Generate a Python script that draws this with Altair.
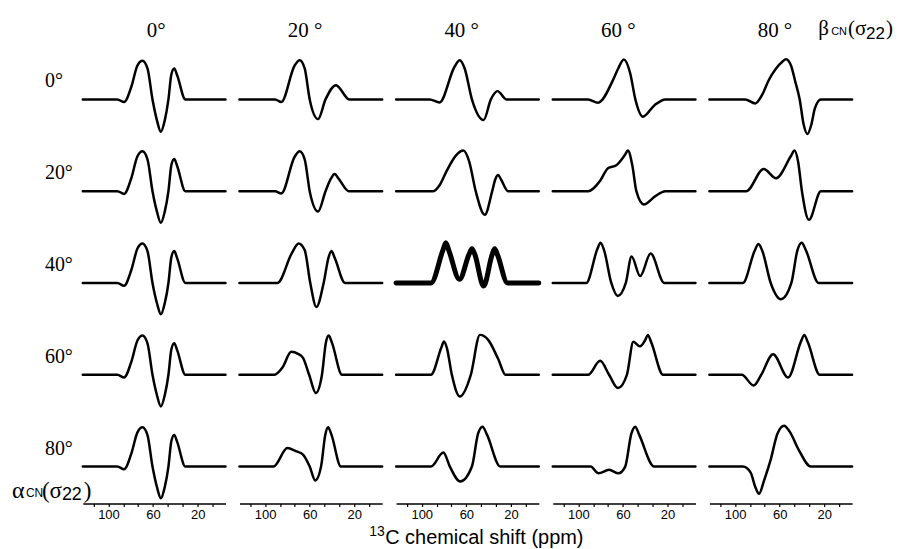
import altair as alt
import pandas as pd

# ---------------- data ----------------
alpha_angles = [0, 20, 40, 60, 80]          # rows  (alpha_CN)
beta_angles = [0, 20, 40, 60, 80]           # columns (beta_CN)
row_labels = ["0°", "20°", "40°", "60°", "80°"]
col_labels = ["0°", "20 °", "40 °", "60 °", "80 °"]
tick_ppm = [113.33, 100, 86.67, 73.33, 60, 46.67, 33.33, 20, 6.67]
labelled_ppm = [100, 60, 20]

# spectra: (chemical shift ppm, intensity) points read along each simulated line shape
s_0_0 = [(123, 0), (92, 0), (86, -2.7), (79.5, 12.7), (74, 34), (69.5, 38.7), (65, 31), (60.5, 0), (56.5, -21), (53, -32.3), (49.5, -21), (46.2, 0), (43.6, 25), (41, 31), (38.3, 24), (31, 0), (-5, 0)]
s_0_20 = [(123, 0), (91, 0), (85.5, -2.7), (73.5, 34), (69, 39.3), (64.5, 31), (60, 0), (52.5, -19.7), (45.8, 0), (36.4, 14.3), (24.5, 0), (-5, 0)]
s_0_40 = [(123, 0), (93, 0), (84, -3), (70.5, 33), (66, 39.3), (61.5, 31), (55, 0), (44.5, -20.7), (38, 0), (32, 8.3), (24, 0), (-5, 0)]
s_0_60 = [(123, 0), (91.3, 0), (82.4, -3.3), (69, 19.3), (64.3, 31), (59.2, 40), (53.5, 26), (48.9, 0), (42.2, -17.3), (31.9, -6), (22.1, 0), (-5, 0)]
s_0_80 = [(123, 0), (90.9, 0), (81.9, -4), (75.5, 5), (69.9, 19), (63.2, 31), (57.6, 37.7), (54.3, 40.3), (49.8, 34), (46, 18), (42, 0), (38.5, -25), (35.1, -34.7), (31.5, -25), (28.4, -9), (23, 0), (-5, 0)]

s_20_0 = [(123, 0), (92, 0), (86, -2.7), (79.5, 13), (74, 35), (69.5, 40), (65, 32), (60.5, 0), (56.5, -20.5), (53, -31.7), (49.5, -20.5), (46.2, 0), (43.6, 26), (41, 32.3), (38.3, 25), (31, 0), (-5, 0)]
s_20_20 = [(123, 0), (91, 0), (85.5, -2.3), (73.5, 34.5), (69, 40), (64.5, 32), (60, 0), (52.5, -20.3), (45.8, 0), (41, 12.5), (37.7, 17.3), (34, 12.5), (25, 0), (-5, 0)]
s_20_40 = [(123, 0), (89.5, 0), (84, 6), (77.5, 20.7), (69.4, 35.7), (62.7, 40.7), (57.5, 30), (51.6, 0), (43.5, -23.7), (36.8, 0), (34, 12), (31.5, 16.3), (29, 12), (22.6, 0), (-5, 0)]
s_20_60 = [(123, 0), (91.3, 0), (80.5, 10.5), (73.5, 23), (66, 26), (58.5, 36), (55.6, 40.7), (51.5, 25), (48, 0), (41.3, -13.3), (31, -5), (22.1, 0), (-5, 0)]
s_20_80 = [(123, 0), (90, 0), (74.3, 22.3), (63.2, 13), (50, 35), (46.7, 40.7), (43.5, 30), (40, 0), (33.7, -28.7), (23, 0), (-5, 0)]

s_40_0 = [(123, 0), (92, 0), (86, -2.7), (79.5, 13), (74, 34.5), (69.5, 39.7), (65, 32), (60.5, 0), (56.5, -20.3), (53, -31.3), (49.5, -20.3), (46.2, 0), (43.6, 25.7), (41, 32), (38.3, 24.7), (31, 0), (-5, 0)]
s_40_20 = [(123, 0), (89, 0), (76, 30), (70, 39.7), (64.5, 33), (59.5, 0), (54, -24), (47.5, 0), (43, 26), (40.5, 32), (37.5, 25), (28.3, 0), (-5, 0)]
s_40_40 = [(123, 0), (91.8, 0), (81, 33), (78.4, 40.3), (75.5, 32), (66.2, 3.7), (57.5, 29), (55, 34.3), (52.5, 29), (44.5, -3), (37, 28), (34.6, 34.3), (32, 28), (23, 0), (-5, 0)]
s_40_60 = [(123, 0), (93, 0), (83, 34), (80.2, 40.3), (77, 33), (70.5, 0), (64.7, -13), (57.5, 0), (52.3, 26.5), (44.6, 7), (35.2, 29.5), (23, 0), (-5, 0)]
s_40_80 = [(123, 0), (93, 0), (82.5, 32), (79, 39), (75.5, 32), (68, 0), (58.8, -16.3), (49.5, 0), (44, 33), (40.2, 40.3), (36.5, 33), (25, 0), (-5, 0)]

s_60_0 = [(123, 0), (92, 0), (86, -2.7), (79.5, 13), (74, 34.3), (69.5, 39.3), (65, 31.5), (60.5, 0), (56.5, -20.5), (53, -31.7), (49.5, -20.5), (46.2, 0), (43.6, 25.3), (41, 31.7), (38.3, 24.5), (31, 0), (-5, 0)]
s_60_20 = [(123, 0), (91.5, 0), (84.6, 7), (76.5, 23), (70.5, 21), (66, 17), (60.5, 0), (54.5, -18.3), (49, 0), (45.5, 32), (43, 39.3), (40, 32), (31, 0), (-5, 0)]
s_60_40 = [(123, 0), (91.8, 0), (82.5, 27), (80.1, 33.3), (77.5, 27), (73, 0), (65.9, -21.7), (56, 0), (47.8, 40), (40.4, 35), (31.5, 16), (24.8, 0), (-5, 0)]
s_60_60 = [(123, 0), (91.3, 0), (80.5, 14), (72.5, 0), (64.6, -13.3), (56.5, 0), (50.7, 33), (44.8, 28.5), (40, 35), (37.7, 40), (34.5, 32), (24, 0), (-5, 0)]
s_60_80 = [(123, 0), (94, 0), (83.3, -10.7), (76.5, 0), (65.9, 20.5), (52.4, -2.7), (41, 33), (37.9, 40), (34.5, 32), (24, 0), (-5, 0)]

s_80_0 = [(123, 0), (92, 0), (86, -2.7), (79.5, 13), (74, 34.3), (69.5, 39.3), (65, 31.5), (60.5, 0), (56.5, -20.5), (53, -31.7), (49.5, -20.5), (46.2, 0), (43.6, 25.3), (41, 31.7), (38.3, 24.5), (31, 0), (-5, 0)]
s_80_20 = [(123, 0), (92.5, 0), (80, 18.5), (72.5, 15.5), (66, 12), (60, 0), (55, -14), (49.8, 0), (46, 32), (43.5, 39.5), (40.5, 32), (32, 0), (-5, 0)]
s_80_40 = [(123, 0), (91.8, 0), (80.6, 14), (74.8, 0), (65.5, -15), (55, 0), (49.5, 33), (45.5, 40), (41.5, 32), (29.5, 0), (-5, 0)]
s_80_60 = [(123, 0), (89, 0), (82, -6.7), (72.5, -3.3), (64, -6.7), (58, 0), (52.5, 33), (49, 40), (45.5, 32), (32, 0), (-5, 0)]
s_80_80 = [(123, 0), (93, 0), (86, -6), (82, -20), (78.5, -27.3), (74, -14), (68, 7), (62, 33), (56, 41), (51, 35), (43, 17), (32, 0), (-5, 0)]

spectra = {
    (0, 0): s_0_0, (0, 20): s_0_20, (0, 40): s_0_40, (0, 60): s_0_60, (0, 80): s_0_80,
    (20, 0): s_20_0, (20, 20): s_20_20, (20, 40): s_20_40, (20, 60): s_20_60, (20, 80): s_20_80,
    (40, 0): s_40_0, (40, 20): s_40_20, (40, 40): s_40_40, (40, 60): s_40_60, (40, 80): s_40_80,
    (60, 0): s_60_0, (60, 20): s_60_20, (60, 40): s_60_40, (60, 60): s_60_60, (60, 80): s_60_80,
    (80, 0): s_80_0, (80, 20): s_80_20, (80, 40): s_80_40, (80, 60): s_80_60, (80, 80): s_80_80,
}

# label texts
beta_parts = ["β", "CN", "(σ", "22", ")"]
alpha_parts = ["α", "CN", "(σ", "22", ")"]
xtitle_parts = ["13", "C chemical shift (ppm)"]

# ---------------- build the long table ----------------
rows = []
for (a, b), pts in spectra.items():
    for p, v in pts:
        rows.append({"kind": "curve", "alpha": a, "beta": b, "ppm": p, "amp": v, "txt": ""})
for a, lab in zip(alpha_angles, row_labels):
    rows.append({"kind": "rowlab", "alpha": a, "beta": beta_angles[0], "txt": lab})
for b, lab in zip(beta_angles, col_labels):
    rows.append({"kind": "colhead", "alpha": alpha_angles[0], "beta": b, "txt": lab})
rows.append({"kind": "betalab", "alpha": alpha_angles[0], "beta": beta_angles[-1], "txt": ""})
rows.append({"kind": "alphalab", "alpha": alpha_angles[-1], "beta": beta_angles[0], "txt": ""})
rows.append({"kind": "xtitle", "alpha": alpha_angles[-1], "beta": beta_angles[2], "txt": ""})
df = pd.DataFrame(rows)

SERIF = "Liberation Serif"
SANS = "Liberation Sans"

label_test = " || ".join(f"abs(datum.value - {v}) < 0.01" for v in labelled_ppm)

line = alt.Chart().mark_line(interpolate="monotone", color="black", strokeJoin="round",
                             strokeCap="round").encode(
    x=alt.X("ppm:Q", scale=alt.Scale(domain=[-5, 123], reverse=True, nice=False, zero=False),
            axis=alt.Axis(values=tick_ppm, labelExpr=f"({label_test}) ? format(datum.value, 'd') : ''",
                          title=None)),
    y=alt.Y("amp:Q", scale=alt.Scale(domain=[-37, 42], nice=False, zero=False), axis=None),
    order=alt.Order("ppm:Q", sort="descending"),
    strokeWidth=alt.condition("datum.alpha == 40 && datum.beta == 40", alt.value(5), alt.value(2.5)),
).transform_filter(alt.datum.kind == "curve")

row_text = alt.Chart().mark_text(font=SERIF, fontSize=20, align="left", baseline="alphabetic",
                                 color="black").encode(
    x=alt.value(-38), y=alt.value(30), text="txt:N"
).transform_filter(alt.datum.kind == "rowlab")

col_text = alt.Chart().mark_text(font=SERIF, fontSize=21, align="right", baseline="alphabetic",
                                 color="black").encode(
    x=alt.value(83), y=alt.value(-21), text="txt:N"
).transform_filter(alt.datum.kind == "colhead")


def piece(kind, text, x, y, font, size):
    return alt.Chart().mark_text(text=text, font=font, fontSize=size, align="left",
                                 baseline="alphabetic", color="black").encode(
        x=alt.value(x), y=alt.value(y)
    ).transform_filter(alt.datum.kind == kind)


beta_layers = [
    piece("betalab", beta_parts[0], 109, -23, SERIF, 21),
    piece("betalab", beta_parts[1], 122, -23, SANS, 11),
    piece("betalab", beta_parts[2], 139, -23, SERIF, 21),
    piece("betalab", beta_parts[3], 157, -19, SANS, 17),
    piece("betalab", beta_parts[4], 177, -23, SERIF, 21),
]
alpha_layers = [
    piece("alphalab", alpha_parts[0], -71, 73, SERIF, 24),
    piece("alphalab", alpha_parts[1], -57, 72, SANS, 12),
    piece("alphalab", alpha_parts[2], -41, 73, SERIF, 23),
    piece("alphalab", alpha_parts[3], -21, 76, SANS, 18),
    piece("alphalab", alpha_parts[4], 1, 73, SERIF, 23),
]
title_layers = [
    piece("xtitle", xtitle_parts[0], -27, 112, SANS, 14),
    piece("xtitle", xtitle_parts[1], -11, 120, SANS, 20),
]

cell = alt.layer(line, row_text, col_text, *beta_layers, *alpha_layers, *title_layers,
                 data=df).properties(width=143, height=79)

chart = cell.facet(
    row=alt.Row("alpha:O", title=None, header=alt.Header(labels=False)),
    column=alt.Column("beta:O", title=None, header=alt.Header(labels=False)),
    spacing={"row": 13, "column": 14},
    bounds="flush",
).properties(
    padding={"left": 4, "top": 9, "right": 0, "bottom": 0},
    background="white",
).configure_view(stroke=None).configure_axis(
    grid=False, domainColor="black", domainWidth=1.5, tickColor="black", tickSize=3,
    tickWidth=1.2, labelFont=SANS, labelFontSize=13, labelColor="black", labelPadding=2,
)

chart.save("out.html", embed_options={"renderer": "svg", "actions": False})
